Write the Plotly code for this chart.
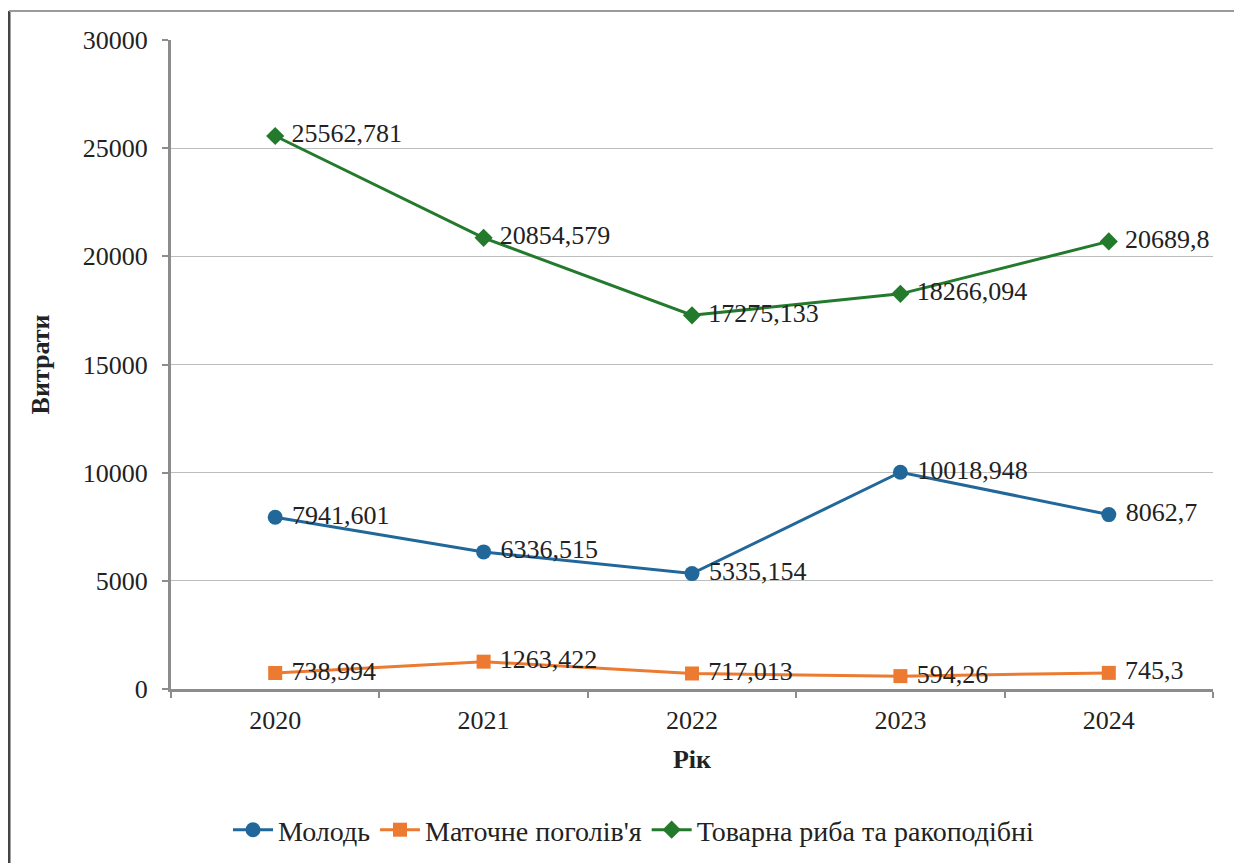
import plotly.graph_objects as go

years = ["2020", "2021", "2022", "2023", "2024"]
molod = [7941.601, 6336.515, 5335.154, 10018.948, 8062.7]
matochne = [738.994, 1263.422, 717.013, 594.26, 745.3]
tovarna = [25562.781, 20854.579, 17275.133, 18266.094, 20689.8]

molod_lbl = ["7941,601", "6336,515", "5335,154", "10018,948", "8062,7"]
matochne_lbl = ["738,994", "1263,422", "717,013", "594,26", "745,3"]
tovarna_lbl = ["25562,781", "20854,579", "17275,133", "18266,094", "20689,8"]

FONT = "'Liberation Serif', 'Times New Roman', Times, serif"
lblfont = dict(family=FONT, size=26, color="#222222")

W, H = 1242, 863
L, T, R, B = 163, 32, 1205, 681  # plot area in figure px
PW, PH = R - L, B - T

fig = go.Figure()
fig.add_trace(go.Scatter(
    x=years, y=molod, name="Молодь", mode="lines+markers+text",
    text=[" " + t for t in molod_lbl], textposition="middle right", textfont=lblfont,
    line=dict(color="#22679A", width=3), cliponaxis=False,
    marker=dict(symbol="circle", size=15, color="#22679A"),
))
fig.add_trace(go.Scatter(
    x=years, y=matochne, name="Маточне поголів'я", mode="lines+markers+text",
    text=[" " + t for t in matochne_lbl], textposition="middle right", textfont=lblfont,
    line=dict(color="#EC7A30", width=3), cliponaxis=False,
    marker=dict(symbol="square", size=14, color="#EC7A30"),
))
fig.add_trace(go.Scatter(
    x=years, y=tovarna, name="Товарна риба та ракоподібні", mode="lines+markers+text",
    text=[" " + t for t in tovarna_lbl], textposition="middle right", textfont=lblfont,
    line=dict(color="#237A2C", width=3), cliponaxis=False,
    marker=dict(symbol="diamond", size=14, color="#237A2C"),
))

fig.update_layout(
    width=W, height=H,
    margin=dict(l=L, r=W - R, t=T, b=H - B, autoexpand=False),
    paper_bgcolor="white", plot_bgcolor="white",
    font=dict(family=FONT, size=24, color="#222222"),
    showlegend=True,
    legend=dict(orientation="h", x=(626 - L) / PW, xanchor="center", xref="paper",
                y=(H - 822) / H, yanchor="middle", yref="container",
                font=dict(family=FONT, size=28, color="#222222"),
                itemwidth=40, tracegroupgap=0),
    xaxis=dict(
        type="category", range=[-0.5, 4.5], automargin=False,
        showline=True, linecolor="#8C8C8C", linewidth=3,
        ticks="outside", ticklen=6, tickwidth=2, tickcolor="#8C8C8C",
        tickson="boundaries", showgrid=False,
        tickfont=dict(family=FONT, size=26, color="#222222"),
        ticklabelstandoff=6,
        title=dict(text="<b>Рік</b>", font=dict(family=FONT, size=26, color="#222222"), standoff=16),
    ),
    yaxis=dict(
        range=[0, 30000], dtick=5000, automargin=False,
        showline=True, linecolor="#8C8C8C", linewidth=3,
        ticks="outside", ticklen=6, tickwidth=2, tickcolor="#8C8C8C",
        showgrid=True, gridcolor="#BDBDBD", gridwidth=1,
        tickformat="d", zeroline=False,
        tickfont=dict(family=FONT, size=26, color="#222222"),
        ticklabelstandoff=9,
        title=dict(text="<b>Витрати</b>", font=dict(family=FONT, size=26, color="#222222"), standoff=26),
    ),
    shapes=[
        dict(type="line", xref="paper", yref="paper",
             x0=(1 - L) / PW, x1=(1 - L) / PW, y0=-0.4, y1=1 + (T - 3) / PH,
             line=dict(color="#444444", width=3)),
        dict(type="line", xref="paper", yref="paper",
             x0=(1 - L) / PW, x1=(1231 - L) / PW, y0=1 + (T - 3) / PH, y1=1 + (T - 3) / PH,
             line=dict(color="#9A9A9A", width=2)),
        dict(type="line", xref="paper", yref="paper",
             x0=(1231 - L) / PW, x1=(1231 - L) / PW, y0=-0.4, y1=1 + (T - 3) / PH,
             line=dict(color="#D0D0D0", width=2)),
    ],
)

fig.write_html("out.html")
